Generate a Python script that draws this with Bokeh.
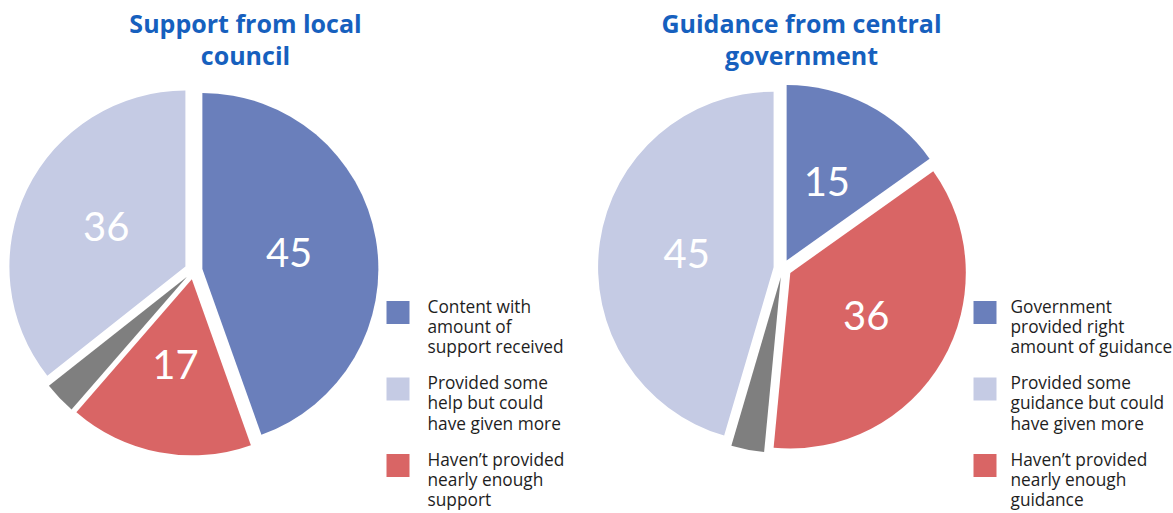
import numpy as np
from bokeh.plotting import figure
from bokeh.models import Range1d
from bokeh.core.properties import value
from bokeh.embed import file_html
from bokeh.resources import INLINE

# ---- data ----
left_title = ["Support from local", "council"]
right_title = ["Guidance from central", "government"]
left_values = [45, 17, 3, 36]
right_values = [15, 36, 3, 45]
left_labels = ["45", "17", "", "36"]
right_labels = ["15", "36", "", "45"]
slice_colors = ["#6A7FBB", "#D96565", "#7F7F7F", "#C5CBE4"]
left_legend = ["Content with\namount of\nsupport received",
               "Provided some\nhelp but could\nhave given more",
               "Haven\u2019t provided\nnearly enough\nsupport"]
right_legend = ["Government\nprovided right\namount of guidance",
                "Provided some\nguidance but could\nhave given more",
                "Haven\u2019t provided\nnearly enough\nguidance"]
legend_colors = ["#6A7FBB", "#C5CBE4", "#D96565"]

W, H = 1173, 513
TITLE_COLOR = "#1660BE"
NUM_FONT = "Lato"
TXT_FONT = "Open Sans"
LEG_FONT = "Open Sans"

p = figure(width=W, height=H, x_range=Range1d(0, W), y_range=Range1d(0, H),
           output_backend="svg", toolbar_location=None, min_border=0,
           x_axis_location=None, y_axis_location=None)
p.xgrid.visible = False
p.ygrid.visible = False
p.outline_line_color = None
p.background_fill_color = "white"
p.border_fill_color = "white"


def sx(x):
    return x


def sy(y):
    return H - y


def draw_pie(cxs, cys, vals, labels, R=176, d=9):
    cx, cy = sx(cxs), sy(cys)
    fr = np.array(vals, dtype=float) / sum(vals)
    cum = np.concatenate([[0.0], np.cumsum(fr)]) * 2 * np.pi
    th1, th2 = cum[:-1], cum[1:]
    mid = (th1 + th2) / 2
    ox = cx + d * np.sin(mid)
    oy = cy + d * np.cos(mid)
    p.wedge(x=ox, y=oy, radius=R, start_angle=np.pi / 2 - th1,
            end_angle=np.pi / 2 - th2, direction="clock",
            fill_color=slice_colors, line_color=None)
    lr = d + 0.5 * R
    lx = cx + lr * np.sin(mid)
    ly = cy + lr * np.cos(mid) + 1.5
    p.text(x=list(lx), y=list(ly), text=labels, text_font=value(NUM_FONT),
           text_font_size="40px", text_color="white", text_align="center",
           text_baseline="alphabetic")


def draw_title(cxs, lines):
    ys = [sy(33 + 32 * i) + 10.5 for i in range(len(lines))]
    p.text(x=[sx(cxs)] * len(lines), y=ys, text=lines, text_font=value(TXT_FONT),
           text_font_size="25px", text_font_style="bold", text_color=TITLE_COLOR,
           text_align="center", text_baseline="alphabetic")


def draw_legend(xs, txs, dy, items, colors):
    sq_y = [312 + dy, 388.5 + dy, 465 + dy]
    p.rect(x=[sx(xs + 11.5)] * 3, y=[sy(v) for v in sq_y], width=23, height=23,
           fill_color=colors, line_color=None)
    tx, ty, tt = [], [], []
    for i, item in enumerate(items):
        for j, line in enumerate(item.split("\n")):
            tx.append(sx(txs))
            ty.append(sy(314 + dy + 76.5 * i + 20.3 * j) + 8.5)
            tt.append(line)
    p.text(x=tx, y=ty, text=tt, text_font=value(LEG_FONT), text_font_size="17.3px",
           text_color="#1E1E1E", text_align="left", text_baseline="alphabetic")


draw_pie(193, 270, left_values, left_labels)
draw_pie(782, 268, right_values, right_labels, R=175.5)
draw_title(245, left_title)
draw_title(801, right_title)
draw_legend(386, 427, 0, left_legend, legend_colors)
draw_legend(973, 1010, 0, right_legend, legend_colors)

open("out.html", "w").write(file_html(p, INLINE))
